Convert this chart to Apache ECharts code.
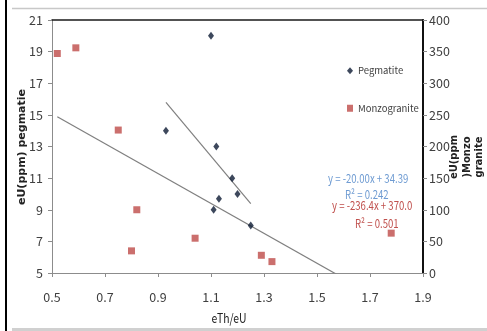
<!DOCTYPE html>
<html><head><meta charset="utf-8">
<script src="https://cdn.jsdelivr.net/npm/echarts@6/dist/echarts.min.js"></script>
<style>html,body{margin:0;padding:0;background:#fff}#c{width:487px;height:331px}</style>
</head><body><div id="c"></div>
<script>
// Pegmatite (left axis)
const pegX = [1.10, 0.93, 1.12, 1.18, 1.20, 1.13, 1.11, 1.25];
const pegY = [20.0, 14.0, 13.0, 11.0, 10.0, 9.7, 9.0, 8.0];
// Monzogranite (right axis)
const monX = [0.52, 0.59, 0.75, 0.82, 0.80, 1.04, 1.29, 1.33, 1.78];
const monY = [347, 356, 226, 100, 35, 55, 28, 18, 63];
// Linear trend coefficients shown on the chart
const pegSlope = -20.00, pegIntercept = 34.39, pegR2 = '0.242';
const monSlope = -236.4, monIntercept = 370.0, monR2 = '0.501';
// Tick labels
const xTicks = [0.5, 0.7, 0.9, 1.1, 1.3, 1.5, 1.7, 1.9];
const yLeftTicks = [5, 7, 9, 11, 13, 15, 17, 19, 21];
const yRightTicks = [0, 50, 100, 150, 200, 250, 300, 350, 400];

const NARROW = "'Noto Sans CJK SC','Liberation Sans',sans-serif";
const pegPts = pegX.map((x, i) => [x, pegY[i]]);
const monPts = monX.map((x, i) => [x, monY[i]]);
const trend = (xs, m, b) => {
  const lo = Math.min(...xs), hi = Math.max(...xs);
  return [[lo, m * lo + b], [hi, m * hi + b]];
};
const txt = (x, y, text, fill, extra) => Object.assign({
  type: 'text', x: x, y: y, scaleX: 0.8,
  style: {text: text, fontFamily: NARROW, fontSize: 12, fill: fill, align: 'left', verticalAlign: 'middle'}
}, extra || {});

const chart = echarts.init(document.getElementById('c'), null, {renderer: 'canvas'});
chart.setOption({
  animation: false,
  backgroundColor: '#fff',
  grid: {left: 52, top: 20, width: 371, height: 253, containLabel: false},
  legend: {
    orient: 'vertical', left: 347, top: 66, padding: 0, itemGap: 28, itemWidth: 6, itemHeight: 7,
    textStyle: {fontFamily: NARROW, fontSize: 9.5, color: '#404040'},
    data: [{name: 'Pegmatite', icon: 'diamond'}, {name: 'Monzogranite', icon: 'rect'}]
  },
  xAxis: [{
    type: 'value', min: 0.5, max: 1.9, position: 'bottom',
    splitLine: {show: false},
    axisLine: {lineStyle: {color: '#8c8c8c', width: 1}},
    axisTick: {show: true, length: 4, customValues: xTicks, lineStyle: {color: '#8c8c8c'}},
    axisLabel: {customValues: xTicks, margin: 18, fontFamily: NARROW, fontSize: 12.5, color: '#404040',
      formatter: v => String(Math.round(v * 10) / 10)}
  }, {
    type: 'value', min: 0.5, max: 1.9, position: 'top',
    splitLine: {show: false}, axisTick: {show: false}, axisLabel: {show: false},
    axisLine: {show: true, lineStyle: {color: '#1a1a1a', width: 1.5}}
  }],
  yAxis: [{
    type: 'value', min: 5, max: 21, position: 'left',
    splitLine: {show: false},
    axisLine: {show: true, lineStyle: {color: '#8c8c8c'}},
    axisTick: {show: true, length: 4, customValues: yLeftTicks, lineStyle: {color: '#8c8c8c'}},
    axisLabel: {customValues: yLeftTicks, margin: 9, fontFamily: NARROW, fontSize: 12.5, color: '#404040'}
  }, {
    type: 'value', min: 0, max: 400, position: 'right',
    splitLine: {show: false},
    axisLine: {show: true, lineStyle: {color: '#111', width: 2}},
    axisTick: {show: true, length: 4, customValues: yRightTicks, lineStyle: {color: '#8c8c8c'}},
    axisLabel: {customValues: yRightTicks, margin: 6, fontFamily: NARROW, fontSize: 12.5, color: '#404040'}
  }],
  series: [{
    name: 'Pegmatite', type: 'scatter', xAxisIndex: 0, yAxisIndex: 0,
    symbol: 'diamond', symbolSize: [6, 8], itemStyle: {color: '#0d1a33'}, data: pegPts, z: 5
  }, {
    name: 'Monzogranite', type: 'scatter', xAxisIndex: 0, yAxisIndex: 1,
    symbol: 'rect', symbolSize: 7, itemStyle: {color: '#be4b48'}, data: monPts, z: 5
  }, {
    name: 'Pegmatite trend', type: 'line', xAxisIndex: 0, yAxisIndex: 0, clip: true,
    showSymbol: false, symbol: 'none', lineStyle: {color: '#7f7f7f', width: 1.2},
    data: trend(pegX, pegSlope, pegIntercept), silent: true
  }, {
    name: 'Monzogranite trend', type: 'line', xAxisIndex: 0, yAxisIndex: 1, clip: true,
    showSymbol: false, symbol: 'none', lineStyle: {color: '#7f7f7f', width: 1.2},
    data: trend(monX, monSlope, monIntercept), silent: true
  }],
  graphic: [
    {type: 'line', shape: {x1: 6, y1: 0, x2: 6, y2: 331}, style: {stroke: '#000', lineWidth: 2}},
    {type: 'line', shape: {x1: 12, y1: 8.5, x2: 487, y2: 8.5}, style: {stroke: '#c8c8c8', lineWidth: 1.5}},
    {type: 'line', shape: {x1: 12, y1: 329.5, x2: 487, y2: 329.5}, style: {stroke: '#d0d0d0', lineWidth: 3}},
    {type: 'text', x: 22, y: 147, rotation: Math.PI / 2,
      style: {text: 'eU(ppm) pegmatie', fontFamily: "'DejaVu Sans',sans-serif", fontWeight: 'bold', fontSize: 11,
        fill: '#222', align: 'center', verticalAlign: 'middle'}},
    {type: 'text', x: 467, y: 157, rotation: Math.PI / 2,
      style: {text: 'eU(ppm\n)Monzo\ngranite', fontFamily: "'DejaVu Sans',sans-serif", fontWeight: 'bold', fontSize: 10,
        lineHeight: 12.5, fill: '#222', align: 'center', verticalAlign: 'middle'}},
    txt(229, 318, 'eTh/eU', '#222', {style: {text: 'eTh/eU', fontFamily: NARROW, fontSize: 13, fill: '#222', align: 'center', verticalAlign: 'middle'}}),
    txt(328, 178, 'y = ' + pegSlope.toFixed(2) + 'x + ' + pegIntercept.toFixed(2), '#6e9bd2'),
    txt(345, 194, 'R² = ' + pegR2, '#6e9bd2'),
    txt(332, 205, 'y = ' + monSlope.toFixed(1) + 'x + ' + monIntercept.toFixed(1), '#c0504d'),
    txt(355, 223, 'R² = ' + monR2, '#c0504d')
  ]
});
</script>
</body></html>
